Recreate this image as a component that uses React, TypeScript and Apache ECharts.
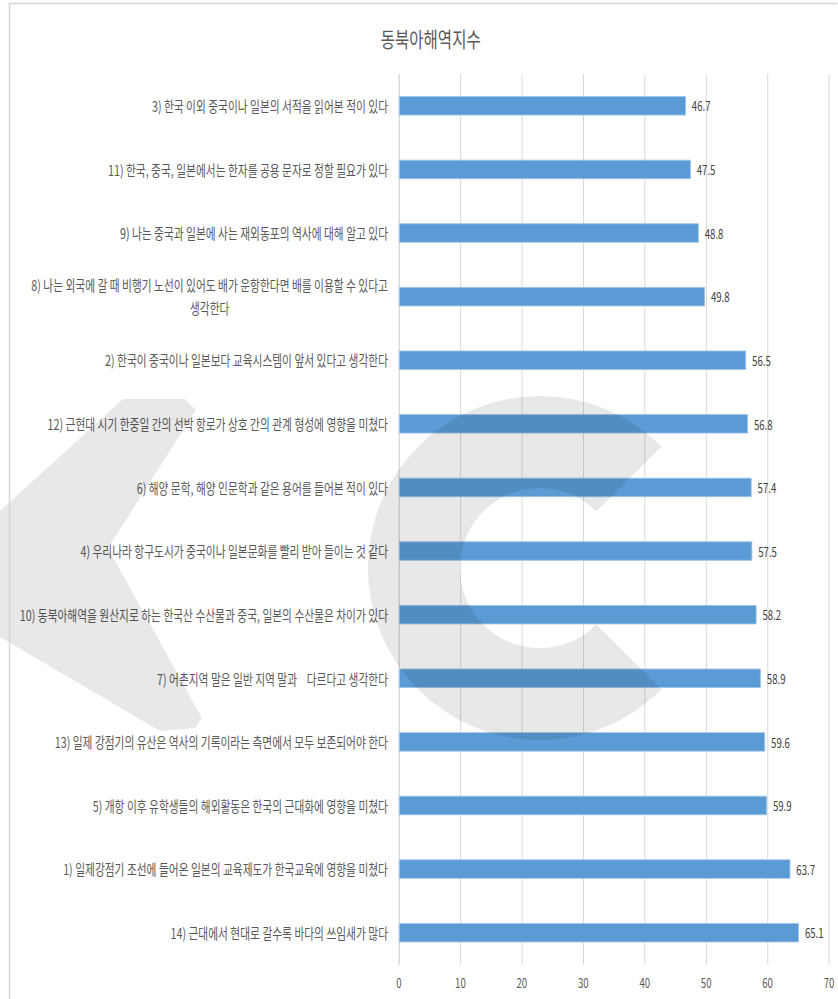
import React, { useEffect, useRef } from "react";
import * as echarts from "echarts";

const categories: string[] = [
  "3) 한국 이외 중국이나 일본의 서적을 읽어본 적이 있다",
  "11) 한국, 중국, 일본에서는 한자를 공용 문자로 정할 필요가 있다",
  "9) 나는 중국과 일본에 사는 재외동포의 역사에 대해 알고 있다",
  "8) 나는 외국에 갈 때 비행기 노선이 있어도 배가 운항한다면 배를 이용할 수 있다고\n생각한다",
  "2) 한국이 중국이나 일본보다 교육시스템이 앞서 있다고 생각한다",
  "12) 근현대 시기 한중일 간의 선박 항로가 상호 간의 관계 형성에 영향을 미쳤다",
  "6) 해양 문학, 해양 인문학과 같은 용어를 들어본 적이 있다",
  "4) 우리나라 항구도시가 중국이나 일본문화를 빨리 받아 들이는 것 같다",
  "10) 동북아해역을 원산지로 하는 한국산 수산물과 중국, 일본의 수산물은 차이가 있다",
  "7) 어촌지역 말은 일반 지역 말과    다르다고 생각한다",
  "13) 일제 강점기의 유산은 역사의 기록이라는 측면에서 모두 보존되어야 한다",
  "5) 개항 이후 유학생들의 해외활동은 한국의 근대화에 영향을 미쳤다",
  "1) 일제강점기 조선에 들어온 일본의 교육제도가 한국교육에 영향을 미쳤다",
  "14) 근대에서 현대로 갈수록 바다의 쓰임새가 많다",
];

const values: number[] = [46.7, 47.5, 48.8, 49.8, 56.5, 56.8, 57.4, 57.5, 58.2, 58.9, 59.6, 59.9, 63.7, 65.1];

const title = "동북아해역지수";
const xMin = 0;
const xMax = 70;
const xStep = 10;

// horizontal condensation of the whole picture
const S = 0.74;
const VW = 838;
const VH = 999;
const W = VW / S;
const cx = (x: number) => x / S;

const FONT = '"Noto Sans CJK KR", "Noto Sans", sans-serif';

export default function App() {
  const ref = useRef<HTMLDivElement>(null);
  useEffect(() => {
    document.body.style.margin = "0";
    document.body.style.overflow = "hidden";
    if (!ref.current) return;
    const chart = echarts.init(ref.current, undefined, { renderer: "svg", width: W, height: VH });
    chart.setOption({
      animation: false,
      backgroundColor: "#ffffff",
      textStyle: { fontFamily: FONT },
      title: {
        text: title,
        left: cx(427),
        textAlign: "center",
        top: 22,
        textStyle: { fontFamily: FONT, fontSize: 21, fontWeight: "normal", color: "#595959" },
      },
      grid: { left: cx(399), right: W - cx(829), top: 74, bottom: 34.5, containLabel: false },
      xAxis: {
        type: "value",
        min: xMin,
        max: xMax,
        interval: xStep,
        axisLine: { show: false },
        axisTick: { show: false },
        splitLine: { show: true, lineStyle: { color: "#d9d9d9", width: 1.35 } },
        axisLabel: { color: "#595959", fontSize: 13, margin: 11, fontFamily: FONT },
      },
      yAxis: {
        type: "category",
        inverse: true,
        data: categories,
        axisLine: { show: true, lineStyle: { color: "#d9d9d9", width: 1.35 } },
        axisTick: { show: false },
        axisLabel: {
          color: "#595959",
          fontSize: 14.5,
          margin: cx(11),
          fontFamily: FONT,
          formatter: (v: string) =>
            v.includes("\n") ? v.split("\n").map((l) => `{c|${l}}`).join("\n") : v,
          rich: {
            c: { align: "center", color: "#595959", fontSize: 14.5, lineHeight: 23, fontFamily: FONT },
          },
        },
      },
      series: [
        {
          type: "bar",
          data: values,
          barWidth: 19.5,
          itemStyle: { color: "#5B9BD5", borderColor: "#9DC3E6", borderWidth: 1 },
          label: {
            show: true,
            position: "right",
            distance: cx(6),
            color: "#404040",
            fontSize: 13,
            fontFamily: FONT,
            formatter: (p: any) => Number(p.value).toFixed(1),
          },
        },
      ],
      graphic: [
        {
          type: "group",
          scaleX: 1 / S,
          scaleY: 1,
          z: 100,
          silent: true,
          children: [
            {
              type: "polygon",
              z: 100,
              shape: {
                points: [
                  [123, 399], [185, 399], [196, 410], [108, 548], [202, 718],
                  [195, 728], [160, 731], [0, 637], [0, 511],
                ],
              },
              style: { fill: "rgba(0,0,0,0.09)" },
            },
            {
              type: "sector",
              z: 100,
              shape: {
                cx: 540,
                cy: 568,
                r: 172,
                r0: 80,
                startAngle: (45 * Math.PI) / 180,
                endAngle: ((360 - 45) * Math.PI) / 180,
                clockwise: true,
              },
              style: { fill: "rgba(0,0,0,0.09)" },
            },
            {
              type: "line",
              z: 100,
              shape: { x1: 9, y1: 3.5, x2: 838, y2: 3.5 },
              style: { stroke: "#d6d6d6", lineWidth: 1.5 },
            },
            {
              type: "line",
              z: 100,
              shape: { x1: 9.5, y1: 3, x2: 9.5, y2: 999 },
              style: { stroke: "#d6d6d6", lineWidth: 1.5 },
            },
          ],
        },
      ],
    });
    return () => chart.dispose();
  }, []);

  return (
    <div style={{ width: VW, height: VH, overflow: "hidden", position: "relative" }}>
      <div
        ref={ref}
        style={{ width: W, height: VH, transform: `scaleX(${S})`, transformOrigin: "0 0" }}
      />
    </div>
  );
}
